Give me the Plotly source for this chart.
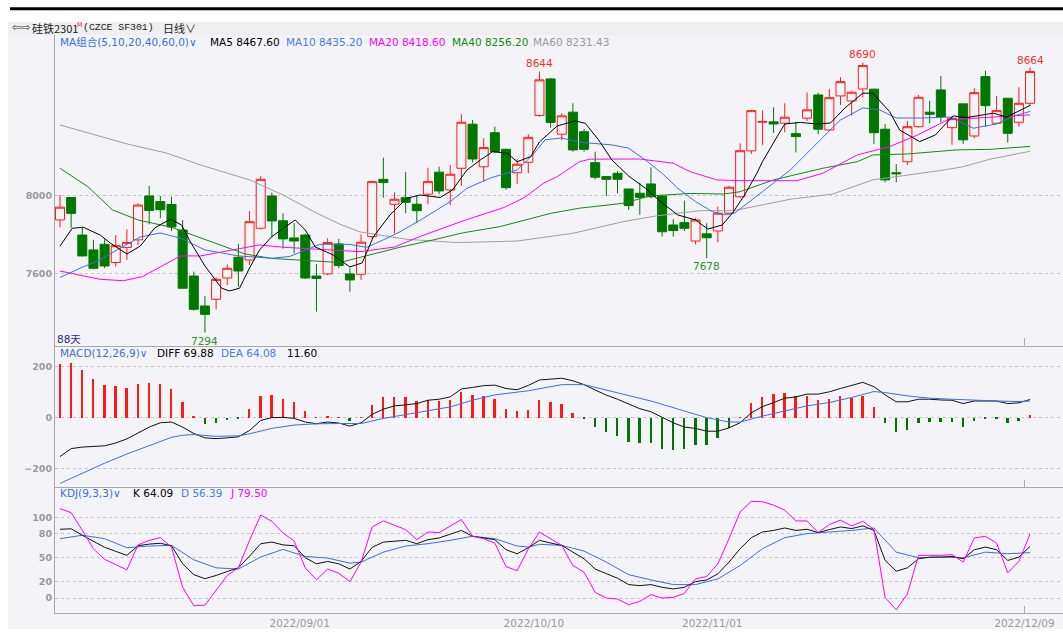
import plotly.graph_objects as go

# ---------------- data ----------------
open_ = [7876, 7992, 7798, 7721, 7750, 7656, 7734, 7773, 8000, 7971,
         7956, 7824, 7586, 7431, 7466, 7576, 7683, 7669, 7833, 8000,
         7872, 7783, 7798, 7586, 7597, 7752, 7597, 7595, 7790, 8086,
         7957, 7991, 7957, 8009, 8123, 8031, 8143, 8371, 8151, 8327,
         8241, 8120, 8174, 8416, 8605, 8319, 8433, 8332, 8172, 8100,
         8117, 8036, 8014, 8062, 8000, 7850, 7862, 7767, 7804, 7819,
         7911, 7996, 8233, 8381, 8383, 8376, 8322, 8402, 8522, 8341,
         8517, 8491, 8553, 8552, 8345, 8120, 8177, 8358, 8433, 8548,
         8353, 8476, 8310, 8617, 8376, 8505, 8381, 8479]
high = [8005, 7995, 7838, 7773, 7776, 7798, 7827, 7962, 8052, 8000,
        7996, 7876, 7609, 7483, 7579, 7647, 7751, 7922, 8102, 8017,
        7911, 7860, 7805, 7648, 7781, 7778, 7626, 7802, 8079, 8198,
        8019, 8123, 8002, 8146, 8151, 8160, 8422, 8393, 8298, 8358,
        8245, 8191, 8319, 8644, 8610, 8427, 8479, 8346, 8229, 8100,
        8129, 8036, 8069, 8148, 8003, 7880, 7976, 7885, 7859, 7945,
        8052, 8272, 8445, 8442, 8458, 8479, 8383, 8535, 8534, 8552,
        8614, 8544, 8690, 8555, 8371, 8165, 8388, 8522, 8491, 8620,
        8414, 8476, 8557, 8648, 8517, 8505, 8562, 8664]
low = [7838, 7835, 7686, 7621, 7626, 7634, 7669, 7747, 7853, 7885,
       7819, 7520, 7407, 7294, 7414, 7540, 7530, 7643, 7828, 7786,
       7728, 7703, 7570, 7402, 7590, 7626, 7505, 7566, 7778, 7991,
       7807, 7911, 7859, 7957, 8009, 7953, 8053, 8174, 8074, 8221,
       8031, 8062, 8117, 8410, 8352, 8287, 8229, 8229, 8086, 8000,
       8014, 7928, 7902, 7988, 7790, 7790, 7819, 7750, 7678, 7761,
       7905, 7990, 8217, 8264, 8326, 8329, 8225, 8388, 8319, 8336,
       8470, 8415, 8508, 8269, 8071, 8071, 8160, 8353, 8376, 8381,
       8264, 8269, 8298, 8358, 8371, 8276, 8358, 8465]
close = [7942, 7910, 7690, 7626, 7638, 7743, 7760, 7953, 7925, 7929,
         7840, 7523, 7414, 7388, 7569, 7626, 7612, 7867, 8086, 7871,
         7778, 7767, 7576, 7573, 7759, 7640, 7566, 7761, 8074, 8069,
         7983, 7967, 7924, 8074, 8026, 8112, 8381, 8191, 8250, 8229,
         8043, 8164, 8303, 8600, 8380, 8414, 8238, 8241, 8097, 8086,
         8086, 7950, 7993, 7996, 7815, 7821, 7833, 7876, 7784, 7911,
         8045, 8234, 8441, 8385, 8372, 8407, 8307, 8445, 8345, 8508,
         8591, 8536, 8674, 8327, 8083, 8115, 8358, 8510, 8422, 8410,
         8402, 8290, 8534, 8467, 8441, 8324, 8479, 8643]
bar_idx = list(range(len(close)))

# moving averages (position in bars, value)
ma5_x = [0, 1.1, 2.1, 3.6, 4.5, 6, 7.2, 8.5, 9.9, 10.9, 11.7, 13, 14.5, 15.2, 16.1, 17, 17.9, 19,
         20.2, 21.1, 22, 22.9, 24.5, 26, 27.1, 28.1, 29.6, 31.1, 32.3, 34.1, 35.2, 36.5, 37.7,
         38.8, 40.1, 41, 42.2, 43, 44.6, 46.2, 47.1, 48.3, 49.5, 51, 52.5, 54, 55.4, 57, 58.1,
         59.4, 60.4, 61.4, 62.5, 63, 64.4, 65, 66.4, 67.9, 69.1, 70.4, 72, 72.9, 74.4, 75.3,
         77.1, 78.5, 80.1, 81.3, 83.7, 84.9, 87]
ma5_y = [7741, 7833, 7838, 7798, 7757, 7700, 7741, 7835, 7880, 7850, 7762, 7638, 7523, 7509, 7523,
         7628, 7721, 7790, 7840, 7876, 7824, 7736, 7695, 7633, 7654, 7788, 7902, 7988, 8005, 7992,
         8031, 8134, 8186, 8229, 8221, 8177, 8203, 8279, 8362, 8388, 8376, 8290, 8186, 8103, 8040,
         7964, 7902, 7876, 7829, 7850, 7919, 8005, 8117, 8177, 8315, 8372, 8380, 8372, 8377, 8455,
         8531, 8531, 8436, 8341, 8281, 8315, 8414, 8405, 8428, 8408, 8468]
ma10_x = [0, 2.1, 3.6, 5.1, 7.2, 9, 10.9, 13, 16, 19, 20.6, 22, 23.3, 26, 27.5, 29, 30.5, 32.6, 35,
          36.5, 38.6, 41, 42.4, 43.5, 45, 46.5, 49.5, 51, 52.5, 54, 55.4, 57, 58.5, 59.6, 60.5, 63,
          65.5, 68.4, 70, 72, 73.5, 75, 77.4, 79.8, 81.9, 84, 85.6, 87]
ma10_y = [7579, 7634, 7669, 7721, 7788, 7809, 7780, 7721, 7690, 7678, 7687, 7721, 7750, 7750, 7734,
          7773, 7815, 7885, 7971, 8040, 8093, 8134, 8212, 8290, 8300, 8278, 8264, 8247, 8186, 8117,
          8040, 7971, 7919, 7902, 7911, 8022, 8134, 8302, 8393, 8455, 8445, 8403, 8403, 8408, 8350,
          8372, 8414, 8437]
ma20_x = [0, 3.6, 5.7, 7.4, 9.6, 10.8, 12.6, 15.5, 17.9, 20, 23, 26.9, 30, 32.4, 36.4, 39.8, 41.6,
          43.4, 44.6, 46.6, 47.5, 52, 55, 56.5, 58.9, 61, 66.1, 68.4, 71.5, 74.4, 76.9, 79.6, 83.4, 87]
ma20_y = [7612, 7569, 7562, 7583, 7652, 7690, 7690, 7721, 7747, 7735, 7724, 7712, 7736, 7793, 7876,
          7940, 7990, 8067, 8100, 8177, 8190, 8191, 8169, 8126, 8083, 8079, 8079, 8117, 8212, 8255,
          8315, 8393, 8407, 8419]
ma40_x = [0, 2.5, 4.7, 7, 10, 11.5, 14.5, 16.6, 19, 22, 25.1, 28.1, 30.5, 33.5, 36.1, 39.5, 44,
          46.5, 50.5, 52.9, 56.5, 59.5, 61, 64, 68.4, 71.5, 72.9, 76, 80.4, 83.4, 87]
ma40_y = [8143, 8048, 7928, 7876, 7838, 7807, 7747, 7700, 7677, 7666, 7656, 7700, 7735, 7773, 7809,
          7842, 7910, 7936, 7962, 8000, 8013, 8010, 8022, 8083, 8143, 8177, 8212, 8217, 8238, 8241,
          8256]
ma60_x = [0, 3.6, 6, 9.6, 12.6, 17, 20, 23, 25.1, 26.9, 31.1, 35.6, 41, 46, 50.5, 53.5, 57.4, 60.4,
          65.5, 69.3, 72.9, 78.9, 81, 83.4, 87]
ma60_y = [8367, 8307, 8269, 8221, 8160, 8083, 8005, 7912, 7854, 7814, 7776, 7759, 7767, 7807, 7867,
          7897, 7924, 7924, 7983, 8010, 8083, 8131, 8151, 8190, 8231]

# MACD
macd_hist = [212, 216, 186, 153, 128, 124, 117, 134, 137, 134, 114, 61, 9, -24, -21, -9, -4,
             34, 87, 91, 74, 61, 25, 3, 9, 1, -12, 1, 51, 80, 82, 80, 67, 71, 67, 68, 101, 91,
             87, 74, 36, 25, 32, 68, 61, 54, 21, -2, -34, -57, -70, -93, -100, -100, -120, -124,
             -120, -107, -104, -80, -38, 1, 58, 82, 93, 97, 84, 84, 68, 75, 84, 78, 84, 41, -21,
             -57, -47, -21, -17, -17, -17, -34, -12, -5, -5, -21, -14, 11.6]
diff = [-153, -122, -116, -113, -111, -100, -84, -61, -38, -21, -18, -38, -63, -80, -83, -80, -76,
        -51, -12, -1, 0, -4, -18, -25, -18, -22, -34, -21, 12, 32, 45, 49, 54, 67, 71, 80, 111,
        117, 124, 126, 113, 108, 125, 146, 150, 153, 143, 128, 107, 87, 71, 51, 34, 22, 1, -21,
        -38, -43, -54, -54, -41, -21, 18, 42, 58, 75, 80, 91, 91, 100, 113, 126, 137, 120, 88, 61,
        61, 71, 71, 68, 67, 54, 64, 64, 64, 54, 57, 69.88]
dea_x = [0, 2, 4, 6, 8, 10, 11, 12, 14, 16, 17, 19, 21, 23, 25, 27, 29, 31, 33, 35, 37, 39, 42, 45,
         47, 50, 53, 56, 58, 60, 61, 63, 65, 67, 69, 71, 73, 74, 76, 78, 80, 82, 84, 86, 87]
dea_y = [-258, -218, -179, -143, -109, -78, -70, -67, -74, -72, -64, -43, -30, -25, -24, -24, -4,
         12, 25, 41, 67, 88, 104, 128, 128, 97, 64, 25, -1, -18, -18, 5, 25, 45, 58, 78, 101, 97,
         84, 75, 71, 67, 64, 62, 64.08]

# KDJ
k_vals = [85.4, 86, 78, 70, 63, 58, 53, 65, 67, 68, 65, 42.5, 29, 24, 28, 33, 37.5, 52, 67.5, 69.5,
          66, 65, 50, 42.5, 45.4, 42.5, 36, 45.4, 63, 69.5, 70.4, 71.7, 67.5, 72.5, 74.6, 79, 84,
          76.7, 75, 72.5, 60, 55, 62.5, 71.7, 68.3, 65.4, 57, 48.8, 36, 30, 24.6, 16.7, 15.4, 16.7,
          13.3, 11.3, 13.3, 20.4, 22.5, 30, 44.6, 61.3, 75, 82, 84, 87, 84, 85.4, 81.3, 85, 88.3,
          86.3, 89.6, 84, 46.7, 33.3, 37.5, 48.8, 50.8, 50.8, 51.7, 48.8, 60, 63.3, 60, 46.7, 50.8,
          64.09]
d_x = [0, 2, 4, 6, 8, 10, 12, 14, 16, 18, 20, 22, 24, 26, 27, 29, 31, 33, 35, 37, 39, 41, 42, 43,
       45, 47, 49, 51, 53, 55, 57, 59, 61, 63, 65, 67, 69, 71, 73, 75, 77, 79, 81, 83, 85, 87]
d_y = [73.7, 78, 73.7, 62.5, 64.6, 65.4, 47.5, 37.5, 36, 51, 60.4, 51.7, 49.6, 43.3, 44.6, 57,
       64.6, 67.5, 71.7, 76.7, 73.7, 64.6, 63.3, 66.7, 65.4, 58.3, 44.6, 29, 22.5, 16.7, 16.7,
       23.8, 40.4, 61.3, 75, 80, 82, 84, 87, 57, 50, 50.8, 50, 57, 55, 56.39]
j_vals = [111, 106, 84, 61, 48, 41.7, 35, 66, 71.7, 75, 63.3, 13.3, -9.6, -8.8, 9.2, 28, 37.5,
          71.7, 103, 95.4, 80.8, 70.8, 37.5, 22.5, 36, 30.8, 20.4, 44.6, 88.3, 95.8, 90.4, 85,
          72.5, 82, 81.3, 89.6, 97.5, 76.7, 73.7, 68.3, 39, 34, 61, 82, 73.7, 65.4, 40.4, 32, 7,
          0, -1.3, -8.3, -4.2, 4.2, 0, 0.8, 5.8, 23.8, 26.7, 42.5, 73.7, 107, 120, 119.6, 115.4,
          109, 95.8, 95.8, 81.3, 91.3, 96.7, 89.6, 95.4, 85, 0.8, -14.6, 5, 53, 53, 53, 54, 44.6,
          74.6, 76.7, 68.3, 31.3, 45.4, 79.5]

# axis ticks and labels
date_tick_idx = [22, 43, 59, 87]
date_tick_text = ["2022/09/01", "2022/10/10", "2022/11/01", "2022/12/09"]
price_ticks = [7600, 8000]
macd_ticks = [-200, 0, 200]
kdj_ticks = [0, 20, 50, 80, 100]

ma_names = ["MA5", "MA10", "MA20", "MA40", "MA60"]
ma_last = ["8467.60", "8435.20", "8418.60", "8256.20", "8231.43"]
macd_last = ["69.88", "64.08", "11.60"]
kdj_last = ["64.09", "56.39", "79.50"]
high_marks = [43, 72, 87]
low_marks = [13, 58]

# ---------------- styling ----------------
BG = "#f4f4f8"
RED = "#ff1a1a"
GREEN = "#007800"
C_MA = ["#000000", "#3d6ee0", "#ff00ff", "#108a10", "#a0a0a0"]
AXC = "#a8a8a8"
FONT = "DejaVu Sans, Noto Sans CJK SC, sans-serif"

W, H = 1063, 641
L, R, T, B = 55, 1063, 35, 613


def px(xp):
    return (xp - L) / (R - L)


def py(yp):
    return (B - yp) / (B - T)


fig = go.Figure()

fig.add_trace(go.Candlestick(
    x=bar_idx, open=open_, high=high, low=low, close=close,
    increasing=dict(line=dict(color=RED, width=1), fillcolor=BG),
    decreasing=dict(line=dict(color=GREEN, width=1), fillcolor=GREEN),
    whiskerwidth=0, xaxis="x", yaxis="y", hoverinfo="skip"))

for xs, ys, col in [(ma60_x, ma60_y, C_MA[4]), (ma40_x, ma40_y, C_MA[3]),
                    (ma20_x, ma20_y, C_MA[2]), (ma10_x, ma10_y, C_MA[1]),
                    (ma5_x, ma5_y, C_MA[0])]:
    fig.add_trace(go.Scatter(x=xs, y=ys, mode="lines", line=dict(color=col, width=1),
                             xaxis="x", yaxis="y", hoverinfo="skip"))

fig.add_trace(go.Bar(x=bar_idx, y=macd_hist, width=0.17,
                     marker=dict(color=[RED if v >= 0 else GREEN for v in macd_hist], line=dict(width=0)),
                     xaxis="x2", yaxis="y2", hoverinfo="skip"))
fig.add_trace(go.Scatter(x=bar_idx, y=diff, mode="lines", line=dict(color="#111111", width=1),
                         xaxis="x2", yaxis="y2", hoverinfo="skip"))
fig.add_trace(go.Scatter(x=dea_x, y=dea_y, mode="lines", line=dict(color=C_MA[1], width=1),
                         xaxis="x2", yaxis="y2", hoverinfo="skip"))

fig.add_trace(go.Scatter(x=d_x, y=d_y, mode="lines", line=dict(color=C_MA[1], width=1),
                         xaxis="x3", yaxis="y3", hoverinfo="skip"))
fig.add_trace(go.Scatter(x=bar_idx, y=k_vals, mode="lines", line=dict(color="#111111", width=1),
                         xaxis="x3", yaxis="y3", hoverinfo="skip"))
fig.add_trace(go.Scatter(x=bar_idx, y=j_vals, mode="lines", line=dict(color="#ff00ff", width=1),
                         xaxis="x3", yaxis="y3", hoverinfo="skip"))

xrange = [-0.448, 89.955]
tickfont = dict(family="DejaVu Sans", size=9.5, color="#9a9a9a", weight="bold")
common_x = dict(range=xrange, showgrid=False, zeroline=False, showline=True, linecolor=AXC,
                linewidth=1, ticks="", fixedrange=True)
common_y = dict(showgrid=True, gridcolor="#c6c6c6", griddash="dot", gridwidth=1, zeroline=False,
                showline=True, linecolor=AXC, linewidth=1, ticks="", tickfont=tickfont,
                ticklabelstandoff=0, fixedrange=True)

fig.update_layout(
    width=W, height=H,
    margin=dict(l=L, r=W - R, t=T, b=H - B, pad=0),
    paper_bgcolor="#ffffff", plot_bgcolor=BG,
    showlegend=False, boxgap=0.15, boxgroupgap=0.05, bargap=0,
    xaxis=dict(domain=[0, 1], anchor="y", showticklabels=False, rangeslider=dict(visible=False),
               **common_x),
    xaxis2=dict(domain=[0, 1], anchor="y2", showticklabels=False, **common_x),
    xaxis3=dict(domain=[0, 1], anchor="y3", showticklabels=True,
                tickvals=[i - 0.5 for i in date_tick_idx], ticktext=date_tick_text,
                tickfont=dict(family="DejaVu Sans", size=10.5, color="#9a9a9a"), **common_x),
    yaxis=dict(domain=[py(345.5), 1], anchor="x", range=[7227, 8832], tickvals=price_ticks,
               **common_y),
    yaxis2=dict(domain=[py(487), py(346.5)], anchor="x2", range=[-272, 277], tickvals=macd_ticks,
                **common_y),
    yaxis3=dict(domain=[0, py(487.5)], anchor="x3", range=[-18.6, 137.3], tickvals=kdj_ticks,
                **common_y),
)

shapes = [
    dict(type="rect", xref="paper", yref="paper", x0=px(8), x1=px(1063), y0=py(629), y1=py(35),
         fillcolor=BG, line=dict(width=0), layer="below"),
    dict(type="rect", xref="paper", yref="paper", x0=px(8), x1=px(1063), y0=py(35), y1=py(21.7),
         fillcolor="#efeff1", line=dict(width=0), layer="below"),
    dict(type="line", xref="paper", yref="paper", x0=px(10), x1=px(1063), y0=py(8.7), y1=py(8.7),
         line=dict(color="#000000", width=3)),
]
# current-date markers at the bottom of each panel
for y0, y1 in [(345.5, 338), (487, 480), (613, 606)]:
    shapes.append(dict(type="line", xref="x", yref="paper", x0=date_tick_idx[-1] - 0.5,
                       x1=date_tick_idx[-1] - 0.5, y0=py(y0), y1=py(y1),
                       line=dict(color=AXC, width=1)))
fig.update_layout(shapes=shapes)

ann = []


def label(xp, yp, text, color, size=10.5, family=FONT):
    ann.append(dict(x=px(xp), y=py(yp), xref="paper", yref="paper", text=text, showarrow=False,
                    xanchor="left", yanchor="middle", font=dict(family=family, size=size, color=color),
                    borderpad=0))


# header
label(11, 27.5, "⇦⇨", "#333333", size=11)
label(31, 27.8, "硅铁2301", "#222222", size=11, family="Noto Sans CJK SC")
label(75.5, 24.5, "M", "#ff3030", size=6.5)
label(82, 27.8, "(CZCE SF301)", "#222222", size=9.8, family="Liberation Mono")
label(162, 27.8, "日线∨", "#222222", size=11, family="Noto Sans CJK SC")

# MA legend
label(58.5, 42, "MA组合(5,10,20,40,60,0)∨", "#3d6ee0")
ma_x = [209, 285, 367.7, 450.7, 532]
ma_cols = ["#000000", "#4a7be6", "#ff00ff", "#108a10", "#9a9a9a"]
for xp, n, v, c in zip(ma_x, ma_names, ma_last, ma_cols):
    label(xp, 42, f"{n} {v}", c)

# MACD legend
label(59, 353.5, "MACD(12,26,9)∨", "#3d6ee0")
label(156, 353.5, f"DIFF {macd_last[0]}", "#000000")
label(220, 353.5, f"DEA {macd_last[1]}", "#4a7be6")
label(286, 353.5, macd_last[2], "#000000")

# KDJ legend
label(59, 492.7, "KDJ(9,3,3)∨", "#3d6ee0")
label(132, 492.7, f"K {kdj_last[0]}", "#000000")
label(180, 492.7, f"D {kdj_last[1]}", "#4a7be6")
label(228.5, 492.7, f"J {kdj_last[2]}", "#ff00ff")

label(55.5, 339, "88天", "#2b2b8c")

# extreme labels
for i in high_marks:
    ann.append(dict(x=i, y=high[i], xref="x", yref="y", text=str(high[i]), showarrow=False,
                    xanchor="center", yanchor="bottom", yshift=0,
                    font=dict(family=FONT, size=10.5, color="#f03030")))
for i in low_marks:
    ann.append(dict(x=i, y=low[i], xref="x", yref="y", text=str(low[i]), showarrow=False,
                    xanchor="center", yanchor="top", yshift=0,
                    font=dict(family=FONT, size=10.5, color="#2f8f2f")))

fig.update_layout(annotations=ann)

fig.write_html("out.html", config={"displayModeBar": False},
               post_script="document.body.style.margin='0';document.body.style.overflow='hidden';")
